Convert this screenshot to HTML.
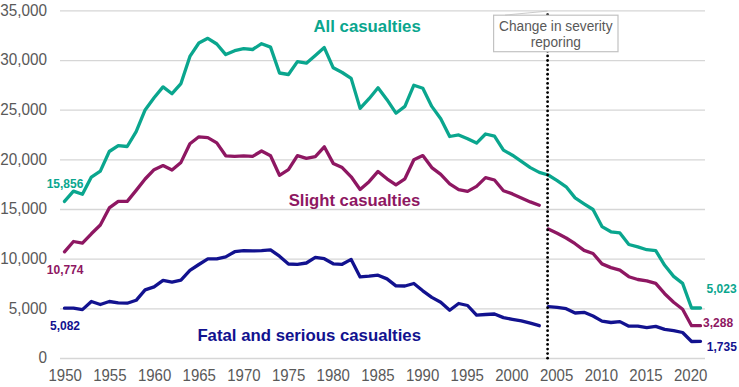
<!DOCTYPE html>
<html><head><meta charset="utf-8"><style>
html,body{margin:0;padding:0;background:#fff;}
body{width:739px;height:387px;overflow:hidden;}
svg{display:block;font-family:"Liberation Sans",sans-serif;}
</style></head><body>
<svg width="739" height="387" viewBox="0 0 739 387">
<g stroke="#d6d6d6" stroke-width="1.3"><line x1="60" x2="705" y1="358.50" y2="358.50"/><line x1="60" x2="705" y1="308.84" y2="308.84"/><line x1="60" x2="705" y1="259.18" y2="259.18"/><line x1="60" x2="705" y1="209.52" y2="209.52"/><line x1="60" x2="705" y1="159.86" y2="159.86"/><line x1="60" x2="705" y1="110.20" y2="110.20"/><line x1="60" x2="705" y1="60.54" y2="60.54"/><line x1="60" x2="705" y1="10.88" y2="10.88"/></g>
<g fill="#595959" font-size="15.3" text-anchor="end"><text transform="translate(47,363.30) scale(1,1.03)">0</text><text transform="translate(47,313.64) scale(1,1.03)">5,000</text><text transform="translate(47,263.98) scale(1,1.03)">10,000</text><text transform="translate(47,214.32) scale(1,1.03)">15,000</text><text transform="translate(47,164.66) scale(1,1.03)">20,000</text><text transform="translate(47,115.00) scale(1,1.03)">25,000</text><text transform="translate(47,65.34) scale(1,1.03)">30,000</text><text transform="translate(47,15.68) scale(1,1.03)">35,000</text></g>
<g fill="#595959" font-size="15" text-anchor="middle"><text transform="translate(65.20,380.6) scale(1,1.07)">1950</text><text transform="translate(109.88,380.6) scale(1,1.07)">1955</text><text transform="translate(154.55,380.6) scale(1,1.07)">1960</text><text transform="translate(199.23,380.6) scale(1,1.07)">1965</text><text transform="translate(243.90,380.6) scale(1,1.07)">1970</text><text transform="translate(288.57,380.6) scale(1,1.07)">1975</text><text transform="translate(333.25,380.6) scale(1,1.07)">1980</text><text transform="translate(377.93,380.6) scale(1,1.07)">1985</text><text transform="translate(422.60,380.6) scale(1,1.07)">1990</text><text transform="translate(467.28,380.6) scale(1,1.07)">1995</text><text transform="translate(511.95,380.6) scale(1,1.07)">2000</text><text transform="translate(556.62,380.6) scale(1,1.07)">2005</text><text transform="translate(601.30,380.6) scale(1,1.07)">2010</text><text transform="translate(645.98,380.6) scale(1,1.07)">2015</text><text transform="translate(690.65,380.6) scale(1,1.07)">2020</text></g>
<g fill="none" stroke-width="3.3" stroke-linejoin="round" stroke-linecap="round">
<polyline stroke="#0aa68e" points="64.50,201.40 73.46,191.10 82.42,194.30 91.37,177.10 100.33,171.10 109.29,151.50 118.25,145.60 127.21,146.50 136.16,131.60 145.12,109.90 154.08,97.80 163.04,86.90 172.00,93.70 180.95,83.60 189.91,56.40 198.87,43.00 207.83,38.30 216.79,44.00 225.74,54.60 234.70,50.70 243.66,48.70 252.62,49.50 261.58,43.70 270.53,47.10 279.49,73.00 288.45,74.50 297.41,61.60 306.37,63.20 315.32,55.40 324.28,47.60 333.24,67.80 342.20,72.50 351.16,78.40 360.11,108.40 369.07,98.70 378.03,87.80 386.99,99.70 395.95,113.20 404.90,106.40 413.86,85.20 422.82,88.30 431.78,106.40 440.74,118.70 449.69,136.50 458.65,134.90 467.61,138.70 476.57,143.10 485.53,134.00 494.48,136.10 503.44,150.10 512.40,155.20 521.36,161.40 530.32,167.60 539.27,172.40 548.23,175.00 557.19,180.60 566.15,186.80 575.11,197.90 584.06,203.80 593.02,209.50 601.98,226.60 610.94,231.80 619.90,232.90 628.85,244.50 637.81,246.90 646.77,249.70 655.73,250.60 664.69,265.30 673.64,276.40 682.60,283.40 691.56,308.00 700.52,308.00"/>
<polyline stroke="#8e1762" points="64.50,251.80 73.46,241.50 82.42,243.20 91.37,233.80 100.33,225.00 109.29,207.90 118.25,201.40 127.21,201.40 136.16,190.40 145.12,179.00 154.08,169.70 163.04,165.60 172.00,170.00 180.95,162.40 189.91,143.70 198.87,136.80 207.83,137.60 216.79,142.90 225.74,155.80 234.70,156.30 243.66,155.80 252.62,156.30 261.58,151.00 270.53,155.80 279.49,175.30 288.45,169.70 297.41,155.70 306.37,158.40 315.32,156.60 324.28,146.80 333.24,163.40 342.20,167.60 351.16,176.80 360.11,189.50 369.07,181.70 378.03,171.40 386.99,178.80 395.95,184.80 404.90,178.80 413.86,159.80 422.82,155.60 431.78,167.60 440.74,174.40 449.69,183.90 458.65,189.60 467.61,191.40 476.57,186.40 485.53,177.60 494.48,180.00 503.44,190.70 512.40,193.90 521.36,197.90 530.32,201.90 539.27,205.20"/>
<polyline stroke="#8e1762" points="548.23,228.90 557.19,233.30 566.15,238.00 575.11,243.70 584.06,250.40 593.02,253.50 601.98,263.90 610.94,267.60 619.90,270.20 628.85,276.70 637.81,279.50 646.77,280.80 655.73,283.40 664.69,293.70 673.64,302.20 682.60,309.20 691.56,325.70 700.52,325.70"/>
<polyline stroke="#12128f" points="64.50,308.20 73.46,308.10 82.42,309.60 91.37,301.50 100.33,304.50 109.29,301.50 118.25,302.80 127.21,303.20 136.16,300.30 145.12,289.90 154.08,286.90 163.04,280.40 172.00,282.10 180.95,280.10 189.91,270.40 198.87,264.50 207.83,258.90 216.79,258.90 225.74,256.90 234.70,251.70 243.66,250.60 252.62,250.90 261.58,250.60 270.53,249.90 279.49,256.20 288.45,264.00 297.41,264.30 306.37,263.00 315.32,257.40 324.28,258.70 333.24,263.80 342.20,264.30 351.16,259.40 360.11,276.90 369.07,276.20 378.03,275.20 386.99,278.90 395.95,285.90 404.90,286.00 413.86,283.50 422.82,290.80 431.78,297.40 440.74,302.30 449.69,310.30 458.65,303.50 467.61,305.50 476.57,315.20 485.53,314.50 494.48,314.00 503.44,317.60 512.40,319.30 521.36,320.80 530.32,323.20 539.27,325.70"/>
<polyline stroke="#12128f" points="548.23,306.70 557.19,307.40 566.15,308.70 575.11,313.00 584.06,312.30 593.02,316.00 601.98,321.10 610.94,322.50 619.90,321.60 628.85,326.20 637.81,326.20 646.77,327.70 655.73,326.40 664.69,329.40 673.64,330.60 682.60,332.50 691.56,341.50 700.52,341.30"/>
</g>
<g fill="#000"><circle cx="547.6" cy="358.20" r="1.4"/><circle cx="547.6" cy="353.62" r="1.4"/><circle cx="547.6" cy="349.04" r="1.4"/><circle cx="547.6" cy="344.46" r="1.4"/><circle cx="547.6" cy="339.88" r="1.4"/><circle cx="547.6" cy="335.30" r="1.4"/><circle cx="547.6" cy="330.72" r="1.4"/><circle cx="547.6" cy="326.14" r="1.4"/><circle cx="547.6" cy="321.56" r="1.4"/><circle cx="547.6" cy="316.98" r="1.4"/><circle cx="547.6" cy="312.40" r="1.4"/><circle cx="547.6" cy="307.82" r="1.4"/><circle cx="547.6" cy="303.24" r="1.4"/><circle cx="547.6" cy="298.66" r="1.4"/><circle cx="547.6" cy="294.08" r="1.4"/><circle cx="547.6" cy="289.50" r="1.4"/><circle cx="547.6" cy="284.92" r="1.4"/><circle cx="547.6" cy="280.34" r="1.4"/><circle cx="547.6" cy="275.76" r="1.4"/><circle cx="547.6" cy="271.18" r="1.4"/><circle cx="547.6" cy="266.60" r="1.4"/><circle cx="547.6" cy="262.02" r="1.4"/><circle cx="547.6" cy="257.44" r="1.4"/><circle cx="547.6" cy="252.86" r="1.4"/><circle cx="547.6" cy="248.28" r="1.4"/><circle cx="547.6" cy="243.70" r="1.4"/><circle cx="547.6" cy="239.12" r="1.4"/><circle cx="547.6" cy="234.54" r="1.4"/><circle cx="547.6" cy="229.96" r="1.4"/><circle cx="547.6" cy="225.38" r="1.4"/><circle cx="547.6" cy="220.80" r="1.4"/><circle cx="547.6" cy="216.22" r="1.4"/><circle cx="547.6" cy="211.64" r="1.4"/><circle cx="547.6" cy="207.06" r="1.4"/><circle cx="547.6" cy="202.48" r="1.4"/><circle cx="547.6" cy="197.90" r="1.4"/><circle cx="547.6" cy="193.32" r="1.4"/><circle cx="547.6" cy="188.74" r="1.4"/><circle cx="547.6" cy="184.16" r="1.4"/><circle cx="547.6" cy="179.58" r="1.4"/><circle cx="547.6" cy="175.00" r="1.4"/><circle cx="547.6" cy="170.42" r="1.4"/><circle cx="547.6" cy="165.84" r="1.4"/><circle cx="547.6" cy="161.26" r="1.4"/><circle cx="547.6" cy="156.68" r="1.4"/><circle cx="547.6" cy="152.10" r="1.4"/><circle cx="547.6" cy="147.52" r="1.4"/><circle cx="547.6" cy="142.94" r="1.4"/><circle cx="547.6" cy="138.36" r="1.4"/><circle cx="547.6" cy="133.78" r="1.4"/><circle cx="547.6" cy="129.20" r="1.4"/><circle cx="547.6" cy="124.62" r="1.4"/><circle cx="547.6" cy="120.04" r="1.4"/><circle cx="547.6" cy="115.46" r="1.4"/><circle cx="547.6" cy="110.88" r="1.4"/><circle cx="547.6" cy="106.30" r="1.4"/><circle cx="547.6" cy="101.72" r="1.4"/><circle cx="547.6" cy="97.14" r="1.4"/><circle cx="547.6" cy="92.56" r="1.4"/><circle cx="547.6" cy="87.98" r="1.4"/><circle cx="547.6" cy="83.40" r="1.4"/><circle cx="547.6" cy="78.82" r="1.4"/><circle cx="547.6" cy="74.24" r="1.4"/><circle cx="547.6" cy="69.66" r="1.4"/><circle cx="547.6" cy="65.08" r="1.4"/><circle cx="547.6" cy="60.50" r="1.4"/><circle cx="547.6" cy="55.92" r="1.4"/><circle cx="547.6" cy="51.34" r="1.4"/><circle cx="547.6" cy="46.76" r="1.4"/><circle cx="547.6" cy="42.18" r="1.4"/><circle cx="547.6" cy="37.60" r="1.4"/><circle cx="547.6" cy="33.02" r="1.4"/><circle cx="547.6" cy="28.44" r="1.4"/><circle cx="547.6" cy="23.86" r="1.4"/><circle cx="547.6" cy="19.28" r="1.4"/><circle cx="547.6" cy="14.70" r="1.4"/></g>
<rect x="493.6" y="15.2" width="124.4" height="36.5" fill="#fff" stroke="#c2c2c2" stroke-width="1.2"/>
<path d="M505,15.1 L547.6,11.1" fill="none" stroke="#c4c4c4" stroke-width="0.9"/>
<g fill="#595959" font-size="13.7" text-anchor="middle">
<text transform="translate(555.8,31.1) scale(1,1.1)">Change in severity</text>
<text transform="translate(555.8,46.8) scale(1,1.08)">reporing</text>
</g>
<g font-weight="bold">
<text x="367.1" y="31.6" font-size="16.8" fill="#0aa68e" text-anchor="middle">All casualties</text>
<text x="354.5" y="205.7" font-size="16.7" fill="#8e1762" text-anchor="middle">Slight casualties</text>
<text x="309.2" y="341.3" font-size="16.78" fill="#12128f" text-anchor="middle">Fatal and serious casualties</text>
<g font-size="12">
<text x="65" y="187.5" fill="#0aa68e" text-anchor="middle">15,856</text>
<text x="65.2" y="273.7" fill="#8e1762" text-anchor="middle">10,774</text>
<text x="65" y="329.9" fill="#12128f" text-anchor="middle">5,082</text>
<text x="721.6" y="293" fill="#0aa68e" text-anchor="middle">5,023</text>
<text x="718.1" y="326.8" fill="#8e1762" text-anchor="middle">3,288</text>
<text x="721.8" y="350.7" fill="#12128f" text-anchor="middle">1,735</text>
</g>
</g>
</svg>
</body></html>
